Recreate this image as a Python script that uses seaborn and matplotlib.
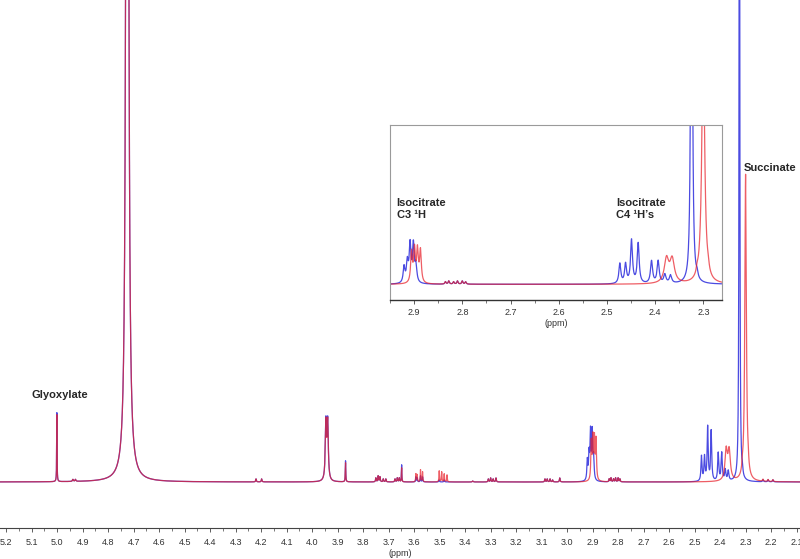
import numpy as np
import pandas as pd
import matplotlib
matplotlib.use("Agg")
import matplotlib.pyplot as plt
from matplotlib.ticker import MultipleLocator, FormatStrFormatter
import seaborn as sns

sns.set_theme(style="white")
plt.rcParams['font.family'] = ['Liberation Sans', 'DejaVu Sans']

# ---------------- data: peak lists ----------------
# chemical shift (ppm), peak height (main-panel units), half width (ppm)
blue_ppm = [5.001, 4.938, 4.928, 4.725, 4.220, 4.198, 3.946, 3.939, 3.869,
            3.750, 3.741, 3.734, 3.721, 3.711, 3.675, 3.666, 3.658, 3.649,
            3.593, 3.588, 3.575, 3.567, 3.502, 3.482, 3.370,
            3.309, 3.300, 3.290, 3.279, 3.087, 3.078, 3.067, 3.057, 3.029,
            2.9208, 2.9140, 2.9083, 2.9015, 2.8962,
            2.835, 2.828, 2.818, 2.810, 2.800, 2.793,
            2.4732, 2.4614, 2.4490, 2.4352, 2.4075, 2.3938, 2.3799, 2.3681,
            2.3245, 2.3128, 2.232, 2.212, 2.193]
blue_height = [69, 2, 2, 3000, 3, 3, 58, 58, 21,
               4, 6, 5, 3, 3, 3, 4, 4, 17,
               5, 4, 6, 5, 2, 2, 1,
               3, 4, 3, 4, 3, 3, 3, 2, 4,
               20, 25, 47, 47, 21,
               3, 4, 3, 4, 4, 3,
               25, 24, 54, 50, 28, 28, 11, 10,
               900, 6, 2, 2, 2]
blue_width = [0.0008, 0.002, 0.002, 0.003, 0.0015, 0.0015, 0.0028, 0.0028, 0.001,
              0.0015, 0.0015, 0.0015, 0.0015, 0.0015, 0.0015, 0.0015, 0.0015, 0.0009,
              0.0012, 0.0012, 0.0012, 0.0012, 0.0015, 0.0015, 0.002,
              0.0015, 0.0015, 0.0015, 0.0015, 0.0015, 0.0015, 0.0015, 0.0015, 0.0015,
              0.0022, 0.0022, 0.0022, 0.0022, 0.0022,
              0.0015, 0.0015, 0.0015, 0.0015, 0.0015, 0.0015,
              0.0024, 0.0024, 0.0024, 0.0024, 0.0026, 0.0026, 0.0028, 0.0028,
              0.0015, 0.002, 0.002, 0.002, 0.002]

red_ppm = [5.001, 4.938, 4.928, 4.725, 4.220, 4.198, 3.946, 3.939, 3.869,
           3.750, 3.741, 3.734, 3.721, 3.711, 3.675, 3.666, 3.658, 3.649,
           3.593, 3.588, 3.575, 3.567, 3.5016, 3.492, 3.482, 3.471, 3.370,
           3.309, 3.300, 3.290, 3.279, 3.087, 3.078, 3.067, 3.057, 3.029,
           2.9054, 2.8992, 2.8930, 2.8868,
           2.835, 2.828, 2.818, 2.810, 2.800, 2.793,
           2.3764, 2.3647, 2.3128, 2.3003, 2.2900, 2.232, 2.212, 2.193]
red_height = [67, 2, 2, 3000, 3, 3, 57, 57, 19,
              4, 6, 5, 3, 3, 3, 4, 4, 14,
              8, 7, 12, 10, 11, 10, 8, 7, 1,
              3, 4, 3, 4, 3, 3, 3, 2, 4,
              38, 41, 40, 40,
              3, 4, 3, 4, 4, 3,
              30, 29, 6, 307, 6, 2, 2, 2]
red_width = [0.0008, 0.002, 0.002, 0.003, 0.0015, 0.0015, 0.0028, 0.0028, 0.001,
             0.0015, 0.0015, 0.0015, 0.0015, 0.0015, 0.0015, 0.0015, 0.0015, 0.0009,
             0.0012, 0.0012, 0.0012, 0.0012, 0.0012, 0.0012, 0.0012, 0.0012, 0.002,
             0.0015, 0.0015, 0.0015, 0.0015, 0.0015, 0.0015, 0.0015, 0.0015, 0.0015,
             0.0021, 0.0021, 0.0021, 0.0021,
             0.0015, 0.0015, 0.0015, 0.0015, 0.0015, 0.0015,
             0.0055, 0.0055, 0.002, 0.0035, 0.002, 0.002, 0.002, 0.002]

main_ticks = [5.2, 5.1, 5.0, 4.9, 4.8, 4.7, 4.6, 4.5, 4.4, 4.3, 4.2, 4.1, 4.0,
              3.9, 3.8, 3.7, 3.6, 3.5, 3.4, 3.3, 3.2, 3.1, 3.0, 2.9, 2.8, 2.7,
              2.6, 2.5, 2.4, 2.3, 2.2, 2.1]
inset_ticks = [2.9, 2.8, 2.7, 2.6, 2.5, 2.4, 2.3]

# ---------------- build spectra (sum of Lorentzian lines) ----------------
grid = np.arange(2.05, 5.26, 0.0001)


def spectrum(pos, hei, wid):
    y = np.zeros_like(grid)
    for p, h, w in zip(pos, hei, wid):
        y += h * w ** 2 / ((grid - p) ** 2 + w ** 2)
    return y


df = pd.concat([
    pd.DataFrame({'ppm': grid, 'intensity': spectrum(blue_ppm, blue_height, blue_width), 'sample': 'blue'}),
    pd.DataFrame({'ppm': grid, 'intensity': spectrum(red_ppm, red_height, red_width), 'sample': 'red'}),
], ignore_index=True)

palette = {'blue': '#2b2bdc', 'red': '#e8202a'}

fig = plt.figure(figsize=(8.0, 5.59), dpi=100)

# ---------------- main panel ----------------
ax = fig.add_axes([0.0, 31 / 559, 1.0, 528 / 559])
for s, a in (('blue', 0.85), ('red', 0.72)):
    sns.lineplot(data=df[df['sample'] == s], x='ppm', y='intensity', color=palette[s],
                 estimator=None, sort=False, lw=0.9, alpha=a, ax=ax, legend=False)
ax.set_xlim(5.224, 2.087)
ax.set_ylim(-46, 482)
ax.set_yticks([])
ax.set_ylabel('')
for sp in ('left', 'right', 'top'):
    ax.spines[sp].set_visible(False)
ax.spines['bottom'].set_color('#444444')
ax.spines['bottom'].set_linewidth(0.8)
ax.set_xticks(main_ticks)
ax.xaxis.set_major_formatter(FormatStrFormatter('%.1f'))
ax.xaxis.set_minor_locator(MultipleLocator(0.05))
ax.tick_params(axis='x', which='major', direction='out', length=3, width=0.6,
               color='#444444', labelsize=6.5, labelcolor='#333333', pad=4, bottom=True)
ax.tick_params(axis='x', which='minor', direction='out', length=2, width=0.5,
               color='#444444', bottom=True)
ax.set_xlabel('(ppm)', fontsize=6.5, color='#333333', labelpad=1.5)
ax.patch.set_alpha(0)

ax.text(4.988, 87, 'Glyoxylate', ha='center', va='center', fontsize=8, fontweight='bold')
ax.text(2.203, 314, 'Succinate', ha='center', va='center', fontsize=8, fontweight='bold')

# ---------------- inset ----------------
ins = fig.add_axes([390 / 800, (559 - 300) / 559, 331.7 / 800, 175 / 559])
for s, a in (('blue', 0.85), ('red', 0.72)):
    sns.lineplot(data=df[df['sample'] == s], x='ppm', y='intensity', color=palette[s],
                 estimator=None, sort=False, lw=0.9, alpha=a, ax=ins, legend=False)
ins.set_xlim(2.950, 2.262)
ins.set_ylim(-19.6, 199)
ins.set_yticks([])
ins.set_ylabel('')
for sp in ('left', 'right', 'top'):
    ins.spines[sp].set_color('#9a9a9a')
    ins.spines[sp].set_linewidth(0.8)
ins.spines['bottom'].set_color('#333333')
ins.spines['bottom'].set_linewidth(1.0)
ins.set_xticks(inset_ticks)
ins.xaxis.set_major_formatter(FormatStrFormatter('%.1f'))
ins.xaxis.set_minor_locator(MultipleLocator(0.05))
ins.tick_params(axis='x', which='major', direction='out', length=3, width=0.6,
                color='#444444', labelsize=6.5, labelcolor='#333333', pad=2.5, bottom=True)
ins.tick_params(axis='x', which='minor', direction='out', length=2, width=0.5,
                color='#444444', bottom=True)
ins.set_xlabel('(ppm)', fontsize=6.5, color='#333333', labelpad=1.5)
ins.text(2.936, 108, 'Isocitrate\nC3 \u00b9H', ha='left', va='top', fontsize=8,
         fontweight='bold', linespacing=1.25)
ins.text(2.4815, 108, 'Isocitrate\nC4 \u00b9H\u2019s', ha='left', va='top', fontsize=8,
         fontweight='bold', linespacing=1.25)

fig.savefig('out.png', dpi=100)
